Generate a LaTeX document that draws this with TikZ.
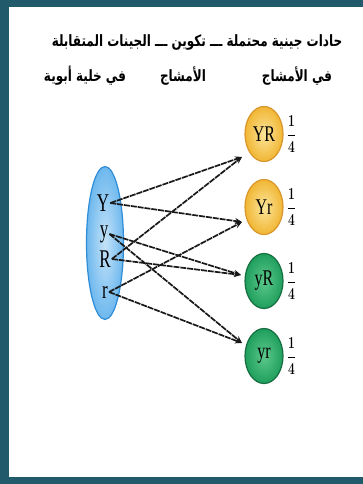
\documentclass[tikz,border=0pt]{standalone}
\usepackage{fontspec}
\setmainfont{Liberation Serif}
\newfontfamily\arabicfont[Script=Arabic]{DejaVu Sans}
\TeXXeTstate=1
\usetikzlibrary{arrows.meta,positioning,shapes.geometric}
\definecolor{bdTeal}{HTML}{215A6A}
\definecolor{cellBlue}{HTML}{6DB8EE}
\definecolor{cellEdge}{HTML}{2F8CD6}
\definecolor{yelFill}{HTML}{F1B634}
\definecolor{yelLight}{HTML}{FBE59A}
\definecolor{yelEdge}{HTML}{D9962A}
\definecolor{grnFill}{HTML}{1F9E5C}
\definecolor{grnLight}{HTML}{5CC98C}
\definecolor{grnEdge}{HTML}{166F41}
\newcommand{\tall}[2][1.4]{\scalebox{1}[#1]{#2}}
\newcommand{\quarter}{\tall{\boldmath$\displaystyle\frac{1}{4}$}}
\tikzset{
  % Arabic header text
  hdr/.style={font=\arabicfont\bfseries\fontsize{12}{14}\selectfont,
    inner sep=0pt},
  % allele letters in the cell
  allele/.style={font=\fontsize{17}{17}\selectfont,inner sep=1pt},
  % gamete ovals
  gam/.style={ellipse,minimum width=38pt,minimum height=55pt,
    line width=1.2pt,font=\fontsize{16}{16}\selectfont,inner sep=0pt},
  gyel/.style={gam,draw=yelEdge,inner color=yelLight,outer color=yelFill},
  ggrn/.style={gam,draw=grnEdge,inner color=grnLight,outer color=grnFill},
  % probability next to a gamete
  prob/.style={font=\fontsize{13}{13}\selectfont,inner sep=0pt},
  % Arrows
  arr/.style={-{Stealth[length=7pt,width=6pt]},line width=1.7pt,
    color=black!90,dash pattern=on 6pt off 0.9pt},
}
\begin{document}
\begin{tikzpicture}[x=1pt,y=-1pt]
  \useasboundingbox (0,0) rectangle (363,484);
  \fill[bdTeal] (0,0) rectangle (363,484);
  \fill[white] (9,7) rectangle (363,477);

  % header
  \node[hdr] (h1) at (197,42)
    {\tall[1.3]{\beginR حادات جينية محتملة ـــ تكوين ـــ الجينات المتقابلة\endR}};
  \node[hdr] (h2a) at (297,76) {\tall[1.3]{\beginR في الأمشاج\endR}};
  \node[hdr] (h2b) at (183,76) {\tall[1.3]{\beginR الأمشاج\endR}};
  \node[hdr] (h2c) at (85,76) {\tall[1.3]{\beginR في خلية أبوية\endR}};

  % parent cell
  \node[ellipse,minimum width=37pt,minimum height=153pt,line width=1.2pt,
    draw=cellEdge,inner color=cellBlue!40,outer color=cellBlue] (cell)
    at (105,243) {};
  \node[allele] (aY) at (103,203) {\tall[1.5]{Y}};
  \node[allele] (ay) at (104,234) {\tall[1.5]{y}};
  \node[allele] (aR) at (105,259) {\tall[1.5]{R}};
  \node[allele] (ar) at (105,292) {\tall[1.5]{r}};

  % gametes
  \node[gyel] (gYR) at (264,134) {\tall{YR}};
  \node[gyel] (gYr) at (264,207) {\tall{Yr}};
  \node[ggrn] (gyR) at (264,281) {\tall{yR}};
  \node[ggrn] (gyr) at (264,356) {\tall{yr}};
  \node[prob,right=3pt of gYR] (pYR) {\quarter};
  \node[prob,right=3pt of gYr] (pYr) {\quarter};
  \node[prob,right=3pt of gyR] (pyR) {\quarter};
  \node[prob,right=3pt of gyr] (pyr) {\quarter};

  \coordinate (tYR) at (242,157);
  \coordinate (tYr) at (242,222);
  \coordinate (tyR) at (241,275);
  \coordinate (tyr) at (242,343);

  \draw[arr] (aY.east) -- (tYR);
  \draw[arr] (aY.east) -- (tYr);
  \draw[arr] (ay.east) -- (tyR);
  \draw[arr] (ay.east) -- (tyr);
  \draw[arr] (aR.east) -- (tYR);
  \draw[arr] (aR.east) -- (tyR);
  \draw[arr] (ar.east) -- (tYr);
  \draw[arr] (ar.east) -- (tyr);
\end{tikzpicture}
\end{document}
